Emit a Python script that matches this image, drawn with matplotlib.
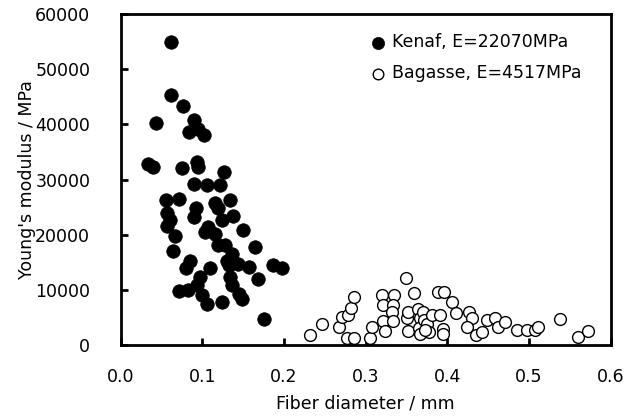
import matplotlib
matplotlib.use("Agg")
import matplotlib.pyplot as plt

plt.rcParams['font.family'] = ['DejaVu Sans']
plt.rcParams['font.size'] = 12.5

# Kenaf (filled circles)
kenaf_d = [0.061, 0.061, 0.076, 0.043, 0.090, 0.083, 0.095, 0.102, 0.033, 0.040,
           0.075, 0.093, 0.095, 0.127, 0.090, 0.105, 0.122, 0.055, 0.071, 0.057,
           0.060, 0.056, 0.092, 0.090, 0.115, 0.119, 0.134, 0.124, 0.138, 0.107,
           0.103, 0.115, 0.067, 0.150, 0.064, 0.119, 0.128, 0.164, 0.136, 0.130,
           0.133, 0.143, 0.157, 0.187, 0.197, 0.085, 0.080, 0.109, 0.168, 0.134,
           0.136, 0.097, 0.093, 0.071, 0.082, 0.099, 0.106, 0.124, 0.145, 0.148,
           0.175]
kenaf_e = [55000, 45400, 43400, 40200, 40800, 38600, 39200, 38000, 32900, 32200,
           32000, 33200, 32200, 31300, 29200, 29000, 29000, 26200, 26400, 24000,
           22700, 21500, 24800, 23200, 25700, 24800, 26200, 22700, 23300, 21300,
           20400, 20100, 19700, 20900, 17000, 18200, 18200, 17700, 16500, 15300,
           14400, 14700, 14100, 14400, 14000, 15300, 13900, 13900, 12000, 12300,
           10800, 12300, 10900, 9700, 9900, 9000, 7500, 7700, 9300, 8400,
           4700]

# Bagasse (open circles)
bagasse_d = [0.232, 0.246, 0.267, 0.271, 0.278, 0.282, 0.286, 0.277, 0.285, 0.305,
             0.308, 0.320, 0.321, 0.321, 0.323, 0.334, 0.333, 0.332, 0.333, 0.349,
             0.352, 0.351, 0.352, 0.359, 0.364, 0.366, 0.365, 0.367, 0.370, 0.371,
             0.375, 0.377, 0.381, 0.372, 0.388, 0.396, 0.391, 0.394, 0.394, 0.406,
             0.410, 0.426, 0.430, 0.424, 0.435, 0.442, 0.448, 0.458, 0.462, 0.471,
             0.485, 0.498, 0.507, 0.511, 0.538, 0.560, 0.572]
bagasse_e = [1800, 3700, 3300, 5100, 5500, 6700, 8700, 1200, 1200, 1300,
             3300, 9100, 7300, 4300, 2500, 9100, 7300, 5900, 4300, 12100,
             2500, 4800, 6000, 9500, 6500, 4800, 3100, 1900, 6000, 4500,
             3700, 2400, 5400, 2700, 9600, 9600, 5400, 2900, 1900, 7700,
             5700, 6000, 4900, 3300, 1800, 2400, 4500, 4800, 3300, 4200,
             2700, 2700, 2700, 3300, 4700, 1500, 2500]

fig = plt.figure(figsize=(6.29, 4.16), dpi=100)
ax = fig.add_axes([0.192, 0.171, 0.779, 0.795])

ax.scatter(kenaf_d, kenaf_e, s=95, c='black', edgecolors='black', linewidths=0.5,
           label='Kenaf, E=22070MPa', zorder=3)
ax.scatter(bagasse_d, bagasse_e, s=72, facecolors='white', edgecolors='black',
           linewidths=1.0, label='Bagasse, E=4517MPa', zorder=3)

ax.set_xlim(0, 0.6)
ax.set_ylim(0, 60000)
ax.set_xticks([0.0, 0.1, 0.2, 0.3, 0.4, 0.5, 0.6])
ax.set_xticklabels(['0.0', '0.1', '0.2', '0.3', '0.4', '0.5', '0.6'])
ax.set_yticks(range(0, 60001, 10000))
ax.tick_params(direction='in', length=5, width=2)
ax.tick_params(axis='x', pad=17)
ax.tick_params(axis='y', pad=22)
for sp in ax.spines.values():
    sp.set_linewidth(2)

ax.set_xlabel('Fiber diameter / mm', labelpad=6)
ax.set_ylabel("Young's modulus / MPa", labelpad=-1)

leg = ax.legend(loc='upper right', bbox_to_anchor=(0.955, 0.963), frameon=False,
                handletextpad=0.35, labelspacing=0.75, borderaxespad=0,
                markerscale=0.9, handlelength=1.0)

fig.savefig('out.png', dpi=100)
